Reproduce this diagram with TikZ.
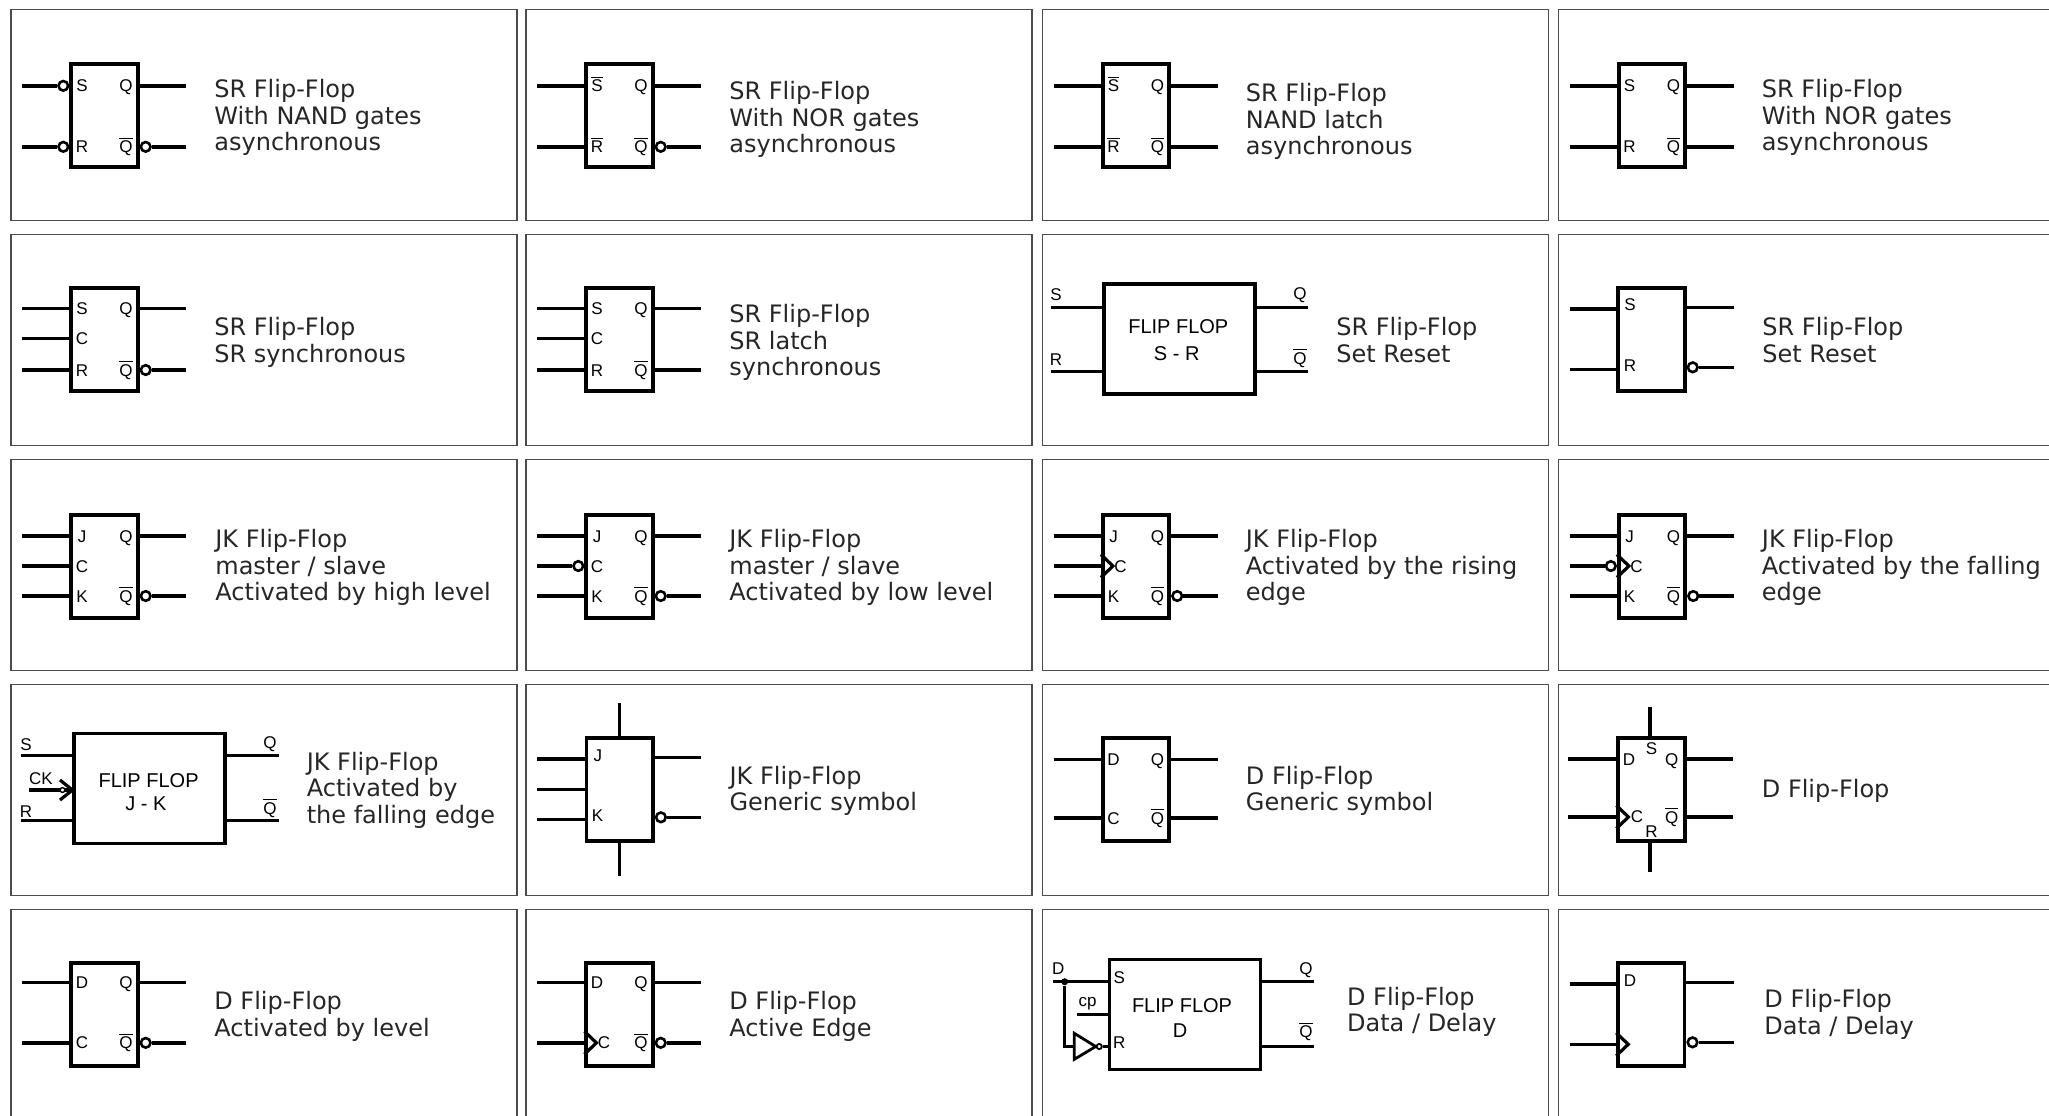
\documentclass[tikz,border=0pt]{standalone}
\usepackage{fontspec}
\setmainfont{DejaVu Sans}
\newfontfamily\pinfont{Liberation Sans}
\usepackage{tikz}

% wires, optional argument is the free end
\newcommand{\wireL}[3][12]{\coordinate (#2#3) at (#1,\wy); \draw[wire] (#2#3) -- (#2#3 -| #2.west);}
\newcommand{\wireR}[3][176]{\coordinate (#2#3) at (#1,\wy); \draw[wire] (#2.east |- #2#3) -- (#2#3);}
\newcommand{\wireLb}[3][12]{\coordinate (#2#3) at (#1,\wy);
	\node[bubble,anchor=east] (#2#3b) at (#2.west |- #2#3) {};
	\draw[wire] (#2#3) -- (#2#3b);}
\newcommand{\wireRb}[3][176]{\coordinate (#2#3) at (#1,\wy);
	\node[bubble,anchor=west] (#2#3b) at (#2.east |- #2#3) {};
	\draw[wire] (#2#3b) -- (#2#3);}
\newcommand{\clk}[2]{\draw[clock] (#1.west |- #2) ++(0,-11.5) -- ++(12,11.5) -- ++(-12,11.5);}
\newcommand{\nbar}[1]{$\overline{\mbox{#1}}$}

\begin{document}
\begin{tikzpicture}[x=0.5pt,y=-0.5pt,
	panel/.style={draw=black!70,line width=0.75pt,anchor=north west,inner sep=0,
		minimum width=253pt,minimum height=105.5pt},
	ffbox/.style={draw,line width=1.9pt,inner sep=0,minimum width=33.2pt,minimum height=51.5pt},
	bigbox/.style={ffbox,minimum width=75.5pt,minimum height=55pt},
	wire/.style={line width=1.7pt},
	clock/.style={line width=1.6pt},
	bubble/.style={circle,draw,line width=1.3pt,fill=white,inner sep=0,minimum size=4.8pt},
	pin/.style={font=\pinfont\fontsize{8.5}{10}\selectfont,inner sep=0,anchor=base,yshift=-3pt},
	title/.style={font=\pinfont\fontsize{10}{12}\selectfont,inner sep=0},
	caption/.style={anchor=west,align=left,inner sep=0,text=black!85,
		font=\fontsize{12}{13.25}\selectfont}]

	\useasboundingbox (0,0) rectangle (2049,1115);
	\clip (0,0) rectangle (2049,1115);

	% first row
	\begin{scope}[shift={(10,8.5)}]
	\node[panel] (fr11) at (0,0) {};
	\node[ffbox] (ff11) at (94.5,107.3) {};
	\def\wy{77.3} \wireLb{ff11}{a} \wireR{ff11}{c}
	\def\wy{138.3} \wireLb{ff11}{b} \wireRb{ff11}{d}
	\node[pin] (ff11s) at (72,77.3) {S};
	\node[pin] (ff11r) at (72,138.3) {R};
	\node[pin] (ff11q) at (116,77.3) {Q};
	\node[pin] (ff11n) at (116,138.3) {\nbar{Q}};
	\node[caption] (t11) at (204,109) {SR Flip-Flop\\With NAND gates\\asynchronous};
	\end{scope}

	\begin{scope}[shift={(525,8.5)}]
	\node[panel] (fr12) at (0,0) {};
	\node[ffbox] (ff12) at (94.5,107.3) {};
	\def\wy{77.3} \wireL{ff12}{a} \wireR{ff12}{c}
	\def\wy{138.3} \wireL{ff12}{b} \wireRb{ff12}{d}
	\node[pin] (ff12s) at (72,77.3) {\nbar{S}};
	\node[pin] (ff12r) at (72,138.3) {\nbar{R}};
	\node[pin] (ff12q) at (116,77.3) {Q};
	\node[pin] (ff12n) at (116,138.3) {\nbar{Q}};
	\node[caption] (t12) at (204,111) {SR Flip-Flop\\With NOR gates\\asynchronous};
	\end{scope}

	\begin{scope}[shift={(1041.5,8.5)}]
	\node[panel] (fr13) at (0,0) {};
	\node[ffbox] (ff13) at (94.5,107.3) {};
	\def\wy{77.3} \wireL{ff13}{a} \wireR{ff13}{c}
	\def\wy{138.3} \wireL{ff13}{b} \wireR{ff13}{d}
	\node[pin] (ff13s) at (72,77.3) {\nbar{S}};
	\node[pin] (ff13r) at (72,138.3) {\nbar{R}};
	\node[pin] (ff13q) at (116,77.3) {Q};
	\node[pin] (ff13n) at (116,138.3) {\nbar{Q}};
	\node[caption] (t13) at (204,113) {SR Flip-Flop\\NAND latch\\asynchronous};
	\end{scope}

	\begin{scope}[shift={(1557.5,8.5)}]
	\node[panel] (fr14) at (0,0) {};
	\node[ffbox] (ff14) at (94.5,107.3) {};
	\def\wy{77.3} \wireL{ff14}{a} \wireR{ff14}{c}
	\def\wy{138.3} \wireL{ff14}{b} \wireR{ff14}{d}
	\node[pin] (ff14s) at (72,77.3) {S};
	\node[pin] (ff14r) at (72,138.3) {R};
	\node[pin] (ff14q) at (116,77.3) {Q};
	\node[pin] (ff14n) at (116,138.3) {\nbar{Q}};
	\node[caption] (t14) at (204,109) {SR Flip-Flop\\With NOR gates\\asynchronous};
	\end{scope}

	% second row
	\begin{scope}[shift={(10,233.5)}]
	\node[panel] (fr21) at (0,0) {};
	\node[ffbox] (ff21) at (94.5,106) {};
	\def\wy{75} \wireL{ff21}{a} \wireR{ff21}{c}
	\def\wy{105} \wireL{ff21}{e}
	\def\wy{136.5} \wireL{ff21}{b} \wireRb{ff21}{d}
	\node[pin] (ff21s) at (72,75) {S};
	\node[pin] (ff21k) at (72,105) {C};
	\node[pin] (ff21r) at (72,136.5) {R};
	\node[pin] (ff21q) at (116,75) {Q};
	\node[pin] (ff21n) at (116,136.5) {\nbar{Q}};
	\node[caption] (t21) at (204,109) {SR Flip-Flop\\SR synchronous};
	\end{scope}

	\begin{scope}[shift={(525,233.5)}]
	\node[panel] (fr22) at (0,0) {};
	\node[ffbox] (ff22) at (94.5,106) {};
	\def\wy{75} \wireL{ff22}{a} \wireR{ff22}{c}
	\def\wy{105} \wireL{ff22}{e}
	\def\wy{136.5} \wireL{ff22}{b} \wireR{ff22}{d}
	\node[pin] (ff22s) at (72,75) {S};
	\node[pin] (ff22k) at (72,105) {C};
	\node[pin] (ff22r) at (72,136.5) {R};
	\node[pin] (ff22q) at (116,75) {Q};
	\node[pin] (ff22n) at (116,136.5) {\nbar{Q}};
	\node[caption] (t22) at (204,109) {SR Flip-Flop\\SR latch\\synchronous};
	\end{scope}

	\begin{scope}[shift={(1041.5,233.5)}]
	\node[panel] (fr23) at (0,0) {};
	\node[bigbox] (ff23) at (138.2,105.8) {};
	\def\wy{73.8} \wireL[9.2]{ff23}{a} \wireR[266.2]{ff23}{c}
	\def\wy{137.8} \wireL[9.2]{ff23}{b} \wireR[266.2]{ff23}{d}
	\node[pin] (ff23s) at (14.5,60.5) {S};
	\node[pin] (ff23r) at (14.5,125.8) {R};
	\node[pin] (ff23q) at (258.5,59.8) {Q};
	\node[pin] (ff23n) at (258.5,124.8) {\nbar{Q}};
	\node[title] (ff23t) at (136.8,93.2) {FLIP FLOP};
	\node[title] (ff23u) at (135.2,119.8) {S - R};
	\node[caption] (t23) at (294.5,106.5) {SR Flip-Flop\\Set Reset};
	\end{scope}

	\begin{scope}[shift={(1557.5,233.5)}]
	\node[panel] (fr24) at (0,0) {};
	\node[ffbox] (ff24) at (94,106) {};
	\def\wy{75.5} \wireL{ff24}{a}
	\def\wy{73.8} \wireR{ff24}{c}
	\def\wy{135.8} \wireL{ff24}{b}
	\def\wy{133.8} \wireRb{ff24}{d}
	\node[pin] (ff24s) at (72.5,70.8) {S};
	\node[pin] (ff24r) at (72.5,131.5) {R};
	\node[caption] (t24) at (204.5,106.5) {SR Flip-Flop\\Set Reset};
	\end{scope}

	% third row
	\begin{scope}[shift={(10,458.5)}]
	\node[panel] (fr31) at (0,0) {};
	\node[ffbox] (ff31) at (94.5,108) {};
	\def\wy{77.5} \wireL{ff31}{a} \wireR{ff31}{c}
	\def\wy{107.5} \wireL{ff31}{e}
	\def\wy{137.5} \wireL{ff31}{b} \wireRb{ff31}{d}
	\node[pin] (ff31j) at (72,77.5) {J};
	\node[pin] (ff31k) at (72,107.5) {C};
	\node[pin] (ff31r) at (72,137.5) {K};
	\node[pin] (ff31q) at (116,77.5) {Q};
	\node[pin] (ff31n) at (116,137.5) {\nbar{Q}};
	\node[caption] (t31) at (205,109) {JK Flip-Flop\\master / slave\\Activated by high level};
	\end{scope}

	\begin{scope}[shift={(525,458.5)}]
	\node[panel] (fr32) at (0,0) {};
	\node[ffbox] (ff32) at (94.5,108) {};
	\def\wy{77.5} \wireL{ff32}{a} \wireR{ff32}{c}
	\def\wy{107.5} \wireLb{ff32}{e}
	\def\wy{137.5} \wireL{ff32}{b} \wireRb{ff32}{d}
	\node[pin] (ff32j) at (72,77.5) {J};
	\node[pin] (ff32k) at (72,107.5) {C};
	\node[pin] (ff32r) at (72,137.5) {K};
	\node[pin] (ff32q) at (116,77.5) {Q};
	\node[pin] (ff32n) at (116,137.5) {\nbar{Q}};
	\node[caption] (t32) at (204,109) {JK Flip-Flop\\master / slave\\Activated by low level};
	\end{scope}

	\begin{scope}[shift={(1041.5,458.5)}]
	\node[panel] (fr33) at (0,0) {};
	\node[ffbox] (ff33) at (94.5,108) {};
	\def\wy{77.5} \wireL{ff33}{a} \wireR{ff33}{c}
	\def\wy{107.5} \wireL{ff33}{e} \clk{ff33}{ff33e}
	\def\wy{137.5} \wireL{ff33}{b} \wireRb{ff33}{d}
	\node[pin] (ff33j) at (72,77.5) {J};
	\node[pin] (ff33k) at (79,107.5) {C};
	\node[pin] (ff33r) at (72,137.5) {K};
	\node[pin] (ff33q) at (116,77.5) {Q};
	\node[pin] (ff33n) at (116,137.5) {\nbar{Q}};
	\node[caption] (t33) at (204,109) {JK Flip-Flop\\Activated by the rising\\edge};
	\end{scope}

	\begin{scope}[shift={(1557.5,458.5)}]
	\node[panel] (fr34) at (0,0) {};
	\node[ffbox] (ff34) at (94.5,108) {};
	\def\wy{77.5} \wireL{ff34}{a} \wireR{ff34}{c}
	\def\wy{107.5} \wireLb{ff34}{e} \clk{ff34}{ff34e}
	\def\wy{137.5} \wireL{ff34}{b} \wireRb{ff34}{d}
	\node[pin] (ff34j) at (72,77.5) {J};
	\node[pin] (ff34k) at (79,107.5) {C};
	\node[pin] (ff34r) at (72,137.5) {K};
	\node[pin] (ff34q) at (116,77.5) {Q};
	\node[pin] (ff34n) at (116,137.5) {\nbar{Q}};
	\node[caption] (t34) at (204,109) {JK Flip-Flop\\Activated by the falling\\edge};
	\end{scope}

	% fourth row
	\begin{scope}[shift={(10,683.5)}]
	\node[panel] (fr41) at (0,0) {};
	\node[bigbox] (ff41) at (139.8,105) {};
	\def\wy{72} \wireL[11]{ff41}{a} \wireR[268.7]{ff41}{c}
	\def\wy{137} \wireL[11]{ff41}{b} \wireR[268.7]{ff41}{d}
	\def\wy{106.5} \wireL[19]{ff41}{e}
	\coordinate (ff41u) at (50,96.5);
	\coordinate (ff41v) at (50,116.5);
	\draw[clock] (ff41u) -- (ff41.west |- ff41e) -- (ff41v);
	\node[circle,draw,line width=0.7pt,fill=white,inner sep=0,minimum size=2.4pt] (ff41b) at (52.5,106.5) {};
	\node[pin] (ff41s) at (16,60.5) {S};
	\node[pin] (ff41r) at (16,127.5) {R};
	\node[pin] (ff41c) at (31,94.5) {CK};
	\node[pin] (ff41q) at (260,59) {Q};
	\node[pin] (ff41n) at (260,124.9) {\nbar{Q}};
	\node[title] (ff41t) at (138.6,97.2) {FLIP FLOP};
	\node[title] (ff41o) at (136,120.5) {J - K};
	\node[caption] (t41) at (296.4,106.5) {JK Flip-Flop\\Activated by\\the falling edge};
	\end{scope}

	\begin{scope}[shift={(525,683.5)}]
	\node[panel] (fr42) at (0,0) {};
	\node[ffbox] (ff42) at (94.7,106.1) {};
	\coordinate (ff42u) at (94.7,19.8);
	\coordinate (ff42v) at (94.7,192.2);
	\draw[wire] (ff42u) -- (ff42.north);
	\draw[wire] (ff42.south) -- (ff42v);
	\def\wy{75.5} \wireL{ff42}{a}
	\def\wy{73.8} \wireR{ff42}{c}
	\def\wy{105.8} \wireL{ff42}{e}
	\def\wy{135.8} \wireL{ff42}{b}
	\def\wy{133.8} \wireRb{ff42}{d}
	\node[pin] (ff42j) at (72.8,71.5) {J};
	\node[pin] (ff42k) at (72.5,131.5) {K};
	\node[caption] (t42) at (204.2,107.5) {JK Flip-Flop\\Generic symbol};
	\end{scope}

	\begin{scope}[shift={(1041.5,683.5)}]
	\node[panel] (fr43) at (0,0) {};
	\node[ffbox] (ff43) at (94.5,106) {};
	\def\wy{75.7} \wireL{ff43}{a} \wireR{ff43}{c}
	\def\wy{134.5} \wireL{ff43}{b} \wireR{ff43}{d}
	\node[pin] (ff43d) at (72,75.7) {D};
	\node[pin] (ff43k) at (72,134.5) {C};
	\node[pin] (ff43q) at (116,75.7) {Q};
	\node[pin] (ff43n) at (116,134.5) {\nbar{Q}};
	\node[caption] (t43) at (204,107.5) {D Flip-Flop\\Generic symbol};
	\end{scope}

	\begin{scope}[shift={(1557.5,683.5)}]
	\node[panel] (fr44) at (0,0) {};
	\node[ffbox] (ff44) at (94,105.8) {};
	\coordinate (ff44u) at (92.5,23.5);
	\coordinate (ff44v) at (92.5,188);
	\draw[wire] (ff44u) -- (ff44u |- ff44.north);
	\draw[wire] (ff44v |- ff44.south) -- (ff44v);
	\def\wy{75.5} \wireL[10.5]{ff44}{a} \wireR[175.5]{ff44}{c}
	\def\wy{133.5} \wireL[10.5]{ff44}{b} \wireR[175.5]{ff44}{d}
	\clk{ff44}{ff44b}
	\node[pin] (ff44d) at (71.5,75.5) {D};
	\node[pin] (ff44s) at (94,64.5) {S};
	\node[pin] (ff44k) at (79.5,133.2) {C};
	\node[pin] (ff44r) at (94,147.5) {R};
	\node[pin] (ff44q) at (114.2,75.5) {Q};
	\node[pin] (ff44n) at (114.2,133.5) {\nbar{Q}};
	\node[caption] (t44) at (204,107.5) {D Flip-Flop};
	\end{scope}

	% fifth row
	\begin{scope}[shift={(10,908.5)}]
	\node[panel] (fr51) at (0,0) {};
	\node[ffbox] (ff51) at (94.5,106) {};
	\def\wy{74.2} \wireL{ff51}{a} \wireR{ff51}{c}
	\def\wy{134.3} \wireL{ff51}{b} \wireRb{ff51}{d}
	\node[pin] (ff51d) at (72,74.2) {D};
	\node[pin] (ff51k) at (72,134.3) {C};
	\node[pin] (ff51q) at (116,74.2) {Q};
	\node[pin] (ff51n) at (116,134.3) {\nbar{Q}};
	\node[caption] (t51) at (204,108) {D Flip-Flop\\Activated by level};
	\end{scope}

	\begin{scope}[shift={(525,908.5)}]
	\node[panel] (fr52) at (0,0) {};
	\node[ffbox] (ff52) at (94.5,106) {};
	\def\wy{74.2} \wireL{ff52}{a} \wireR{ff52}{c}
	\def\wy{134.3} \wireL{ff52}{b} \wireRb{ff52}{d}
	\clk{ff52}{ff52b}
	\node[pin] (ff52d) at (72,74.2) {D};
	\node[pin] (ff52k) at (79,134.3) {C};
	\node[pin] (ff52q) at (116,74.2) {Q};
	\node[pin] (ff52n) at (116,134.3) {\nbar{Q}};
	\node[caption] (t52) at (204,108) {D Flip-Flop\\Active Edge};
	\end{scope}

	\begin{scope}[shift={(1041.5,908.5)}]
	\node[panel] (fr53) at (0,0) {};
	\node[bigbox] (ff53) at (143.5,106) {};
	\def\wy{73.2} \wireL[11.2]{ff53}{a} \wireR[272.5]{ff53}{c}
	\def\wy{138.2} \wireR[272.5]{ff53}{d}
	\def\wy{106.2} \wireL[35.8]{ff53}{e}
	\node[circle,fill,inner sep=0,minimum size=3.5pt] (ff53j) at (23.2,73.2) {};
	\coordinate (ff53u) at (32.8,138);
	\coordinate (ff53v) at (32.8,124.8);
	\coordinate (ff53w) at (32.8,150.8);
	\coordinate (ff53x) at (54.2,138);
	\draw[wire] (ff53j) |- (ff53u);
	\draw[line width=1.4pt] (ff53v) -- (ff53x) -- (ff53w) -- cycle;
	\node[bubble,line width=0.9pt,minimum size=2.6pt,anchor=west] (ff53b) at (ff53x) {};
	\draw[wire] (ff53b) -- (ff53b -| ff53.west);
	\node[pin] (ff53d) at (16.8,59.8) {D};
	\node[pin] (ff53c) at (46.2,91.5) {cp};
	\node[pin] (ff53s) at (77.8,68.8) {S};
	\node[pin] (ff53r) at (77.8,134.2) {R};
	\node[pin] (ff53q) at (264.5,59.8) {Q};
	\node[pin] (ff53n) at (264.5,123.2) {\nbar{Q}};
	\node[title] (ff53t) at (140.5,97.5) {FLIP FLOP};
	\node[title] (ff53o) at (138.5,122.2) {D};
	\node[caption] (t53) at (305.2,103.5) {D Flip-Flop\\Data / Delay};
	\end{scope}

	\begin{scope}[shift={(1557.5,908.5)}]
	\node[panel] (fr54) at (0,0) {};
	\node[ffbox] (ff54) at (93.8,105.8) {};
	\def\wy{75.5} \wireL{ff54}{a}
	\def\wy{73.8} \wireR{ff54}{c}
	\def\wy{135.8} \wireL{ff54}{b} \clk{ff54}{ff54b}
	\def\wy{133.8} \wireRb{ff54}{d}
	\node[pin] (ff54d) at (72.5,71.5) {D};
	\node[caption] (t54) at (206.5,106) {D Flip-Flop\\Data / Delay};
	\end{scope}
\end{tikzpicture}
\end{document}
